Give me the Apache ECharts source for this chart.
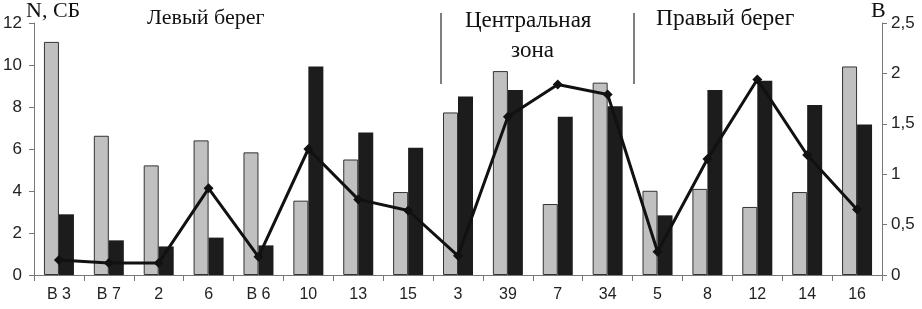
<!DOCTYPE html>
<html>
<head>
<meta charset="utf-8">
<script src="https://cdn.jsdelivr.net/npm/echarts@6/dist/echarts.min.js"></script>
<style>
html, body { margin: 0; padding: 0; background: #fff; }
#chart { width: 922px; height: 309px; }
</style>
</head>
<body>
<div id="chart"></div>
<script>
// станции
var categories = ['В 3', 'В 7', '2', '6', 'В 6', '10', '13', '15', '3', '39', '7', '34', '5', '8', '12', '14', '16'];
// N (серые столбики)
var nValues = [11.1, 6.63, 5.22, 6.41, 5.84, 3.54, 5.5, 3.95, 7.74, 9.71, 3.38, 9.16, 4.01, 4.1, 3.24, 3.95, 9.93];
// СБ (чёрные столбики)
var sbValues = [2.89, 1.65, 1.36, 1.78, 1.41, 9.93, 6.78, 6.06, 8.5, 8.81, 7.54, 8.03, 2.84, 8.81, 9.25, 8.1, 7.17];
// B (линия, правая ось)
var bValues = [0.15, 0.12, 0.12, 0.86, 0.18, 1.25, 0.75, 0.64, 0.19, 1.57, 1.89, 1.79, 0.23, 1.15, 1.94, 1.19, 0.65];

var sans = 'Liberation Sans, Arial, sans-serif';
var serif = 'Liberation Serif, Times New Roman, serif';

function comma(v) {
    return String(v).replace('.', ',');
}

var option = {
    animation: false,
    backgroundColor: '#fff',
    grid: {
        left: 34,
        right: 40,
        top: 23,
        bottom: 34
    },
    xAxis: {
        type: 'category',
        data: categories,
        axisLine: { lineStyle: { color: '#777', width: 1 } },
        axisTick: { show: true, length: 6, inside: false, lineStyle: { color: '#777' } },
        axisLabel: { color: '#222', fontSize: 16, fontFamily: sans, margin: 12 }
    },
    yAxis: [{
        type: 'value',
        min: 0,
        max: 12,
        interval: 2,
        splitLine: { show: false },
        axisLine: { show: true, lineStyle: { color: '#777' } },
        axisTick: { show: true, length: 5, lineStyle: { color: '#777' } },
        axisLabel: { color: '#222', fontSize: 17, fontFamily: sans, margin: 12 }
    }, {
        type: 'value',
        min: 0,
        max: 2.5,
        interval: 0.5,
        splitLine: { show: false },
        axisLine: { show: true, lineStyle: { color: '#777' } },
        axisTick: { show: true, length: 5, lineStyle: { color: '#777' } },
        axisLabel: { color: '#222', fontSize: 17, fontFamily: sans, margin: 9, formatter: comma }
    }],
    series: [{
        name: 'N',
        type: 'bar',
        data: nValues,
        barWidth: 15,
        barGap: '0%',
        itemStyle: { color: '#c0c0c0', borderColor: '#333', borderWidth: 1 }
    }, {
        name: 'СБ',
        type: 'bar',
        data: sbValues,
        barWidth: 15,
        barGap: '0%',
        itemStyle: { color: '#1c1c1c' }
    }, {
        name: 'B',
        type: 'line',
        yAxisIndex: 1,
        data: bValues,
        symbol: 'diamond',
        symbolSize: 10,
        z: 5,
        lineStyle: { color: '#111', width: 3 },
        itemStyle: { color: '#111' }
    }],
    graphic: [
        { type: 'text', left: 26, top: 0, style: { text: 'N, СБ', font: '22px ' + serif, fill: '#111' } },
        { type: 'text', left: 871, top: 0, style: { text: 'В', font: '22px ' + serif, fill: '#111' } },
        { type: 'text', left: 147, top: 7, style: { text: 'Левый берег', font: '22px ' + serif, fill: '#111' } },
        { type: 'text', left: 465, top: 9, style: { text: 'Центральная', font: '23px ' + serif, fill: '#111' } },
        { type: 'text', left: 511, top: 39, style: { text: 'зона', font: '23px ' + serif, fill: '#111' } },
        { type: 'text', left: 656, top: 7, style: { text: 'Правый берег', font: '23.5px ' + serif, fill: '#111' } },
        { type: 'line', shape: { x1: 441, y1: 13, x2: 441, y2: 84 }, style: { stroke: '#555', lineWidth: 1.5 } },
        { type: 'line', shape: { x1: 634, y1: 13, x2: 634, y2: 84 }, style: { stroke: '#555', lineWidth: 1.5 } }
    ]
};

var myChart = echarts.init(document.getElementById('chart'));
myChart.setOption(option);
</script>
</body>
</html>
